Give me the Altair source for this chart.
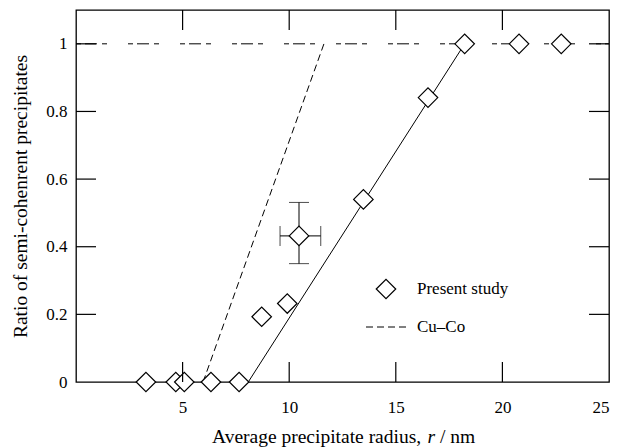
import altair as alt
import pandas as pd

# ---- data ----
present_r = [3.28, 4.68, 5.08, 6.33, 7.65, 8.71, 9.91, 10.46, 13.48, 16.51, 18.23, 20.78, 22.76]
present_ratio = [0, 0, 0, 0, 0, 0.193, 0.232, 0.432, 0.540, 0.841, 1.0, 1.0, 1.0]

err_r = [10.46]
err_ratio = [0.432]
err_r_lo = [9.57]
err_r_hi = [11.48]
err_ratio_lo = [0.350]
err_ratio_hi = [0.531]

fit_r = [8.08, 18.23]
fit_ratio = [0.0, 1.0]

cuco_r = [5.96, 11.63]
cuco_ratio = [0.0, 1.0]

unity_r = [0, 25]
unity_ratio = [1.0, 1.0]

x_tick_vals = [5, 10, 15, 20]
x_label_vals = [5, 10, 15, 20, 25]
y_tick_vals = [0.2, 0.4, 0.6, 0.8, 1.0]
y_label_vals = [0, 0.2, 0.4, 0.6, 0.8, 1]

legend_labels = ["Present study", "Cu\u2013Co"]
x_title_parts = ["Average precipitate radius,", "r", "/ nm"]
y_title = "Ratio of semi-cohenrent precipitates"

W, H = 533, 372
FONT = "'Liberation Serif', 'Times New Roman', Times, serif"

xscale = alt.Scale(domain=[0, 25], nice=False, zero=False)
yscale = alt.Scale(domain=[0, 1.1], nice=False, zero=False)

xaxis = alt.Axis(values=x_label_vals, title="", labelPadding=17, format="d")
yaxis = alt.Axis(values=y_label_vals, title=y_title, labelPadding=9, titlePadding=15, format="~g")


def X(field):
    return alt.X(field, type="quantitative", scale=xscale, axis=xaxis)


def Y(field):
    return alt.Y(field, type="quantitative", scale=yscale, axis=yaxis)


pts = pd.DataFrame({"r": present_r, "ratio": present_ratio})
err = pd.DataFrame({"r": err_r, "ratio": err_ratio, "r_lo": err_r_lo, "r_hi": err_r_hi,
                    "ratio_lo": err_ratio_lo, "ratio_hi": err_ratio_hi})
fit = pd.DataFrame({"r": fit_r, "ratio": fit_ratio})
cuco = pd.DataFrame({"r": cuco_r, "ratio": cuco_ratio})
unity = pd.DataFrame({"r": unity_r, "ratio": unity_ratio})
xt = pd.DataFrame({"t": x_tick_vals})
yt = pd.DataFrame({"t": y_tick_vals})
leg = pd.DataFrame({"label": legend_labels})
xtitle = pd.DataFrame({"part": x_title_parts})

unity_line = alt.Chart(unity).mark_line(color="black", strokeWidth=1, strokeDash=[5, 4, 12, 5, 5, 21]).encode(
    x=X("r"), y=Y("ratio"))
fit_line = alt.Chart(fit).mark_line(color="black", strokeWidth=1).encode(x=X("r"), y=Y("ratio"))
cuco_line = alt.Chart(cuco).mark_line(color="black", strokeWidth=1, strokeDash=[7, 4]).encode(
    x=X("r"), y=Y("ratio"))

err_v = alt.Chart(err).mark_rule(color="black", strokeWidth=1).encode(x=X("r"), y=Y("ratio_lo"), y2="ratio_hi")
err_h = alt.Chart(err).mark_rule(color="black", strokeWidth=1).encode(x=X("r_lo"), x2="r_hi", y=Y("ratio"))
cap_top = alt.Chart(err).mark_tick(color="black", orient="horizontal", size=20, thickness=1).encode(
    x=X("r"), y=Y("ratio_hi"))
cap_bot = alt.Chart(err).mark_tick(color="black", orient="horizontal", size=20, thickness=1).encode(
    x=X("r"), y=Y("ratio_lo"))
cap_l = alt.Chart(err).mark_tick(color="black", orient="vertical", size=20, thickness=1).encode(
    x=X("r_lo"), y=Y("ratio"))
cap_r = alt.Chart(err).mark_tick(color="black", orient="vertical", size=20, thickness=1).encode(
    x=X("r_hi"), y=Y("ratio"))

diamonds = alt.Chart(pts).mark_point(shape="diamond", size=380, filled=True, fill="white",
                                     stroke="black", strokeWidth=1.2, opacity=1).encode(
    x=X("r"), y=Y("ratio"))

# inward ticks on all four sides
tick_b = alt.Chart(xt).mark_rule(color="black", strokeWidth=1.2).encode(
    x=X("t"), y=alt.value(H), y2=alt.value(H - 20))
tick_t = alt.Chart(xt).mark_rule(color="black", strokeWidth=1.2).encode(
    x=X("t"), y=alt.value(0), y2=alt.value(20))
tick_l = alt.Chart(yt).mark_rule(color="black", strokeWidth=1.2).encode(
    y=Y("t"), x=alt.value(0), x2=alt.value(20))
tick_r = alt.Chart(yt).mark_rule(color="black", strokeWidth=1.2).encode(
    y=Y("t"), x=alt.value(W), x2=alt.value(W - 20))

# legend
leg_sym = alt.Chart(leg.iloc[[0]]).mark_point(shape="diamond", size=380, filled=True, fill="white",
                                               stroke="black", strokeWidth=1.2, opacity=1).encode(
    x=alt.value(310), y=alt.value(279))
leg_dash = alt.Chart(leg.iloc[[1]]).mark_rule(color="black", strokeWidth=1, strokeDash=[7, 4]).encode(
    x=alt.value(290), x2=alt.value(331), y=alt.value(317))
leg_t1 = alt.Chart(leg.iloc[[0]]).mark_text(align="left", baseline="middle", font=FONT, fontSize=17,
                                             color="black").encode(
    x=alt.value(341), y=alt.value(279), text="label:N")
leg_t2 = alt.Chart(leg.iloc[[1]]).mark_text(align="left", baseline="middle", font=FONT, fontSize=17,
                                             color="black").encode(
    x=alt.value(341), y=alt.value(317), text="label:N")

# x-axis title with italic "r"
TY = 433
xt1 = alt.Chart(xtitle.iloc[[0]]).mark_text(align="left", baseline="alphabetic", font=FONT, fontSize=19.5,
                                             color="black").encode(
    x=alt.value(136), y=alt.value(TY), text="part:N")
xt2 = alt.Chart(xtitle.iloc[[1]]).mark_text(align="left", baseline="alphabetic", font=FONT, fontSize=19.5,
                                             fontStyle="italic", color="black").encode(
    x=alt.value(351.5), y=alt.value(TY), text="part:N")
xt3 = alt.Chart(xtitle.iloc[[2]]).mark_text(align="left", baseline="alphabetic", font=FONT, fontSize=19.5,
                                             color="black").encode(
    x=alt.value(364), y=alt.value(TY), text="part:N")

chart = alt.layer(
    unity_line, fit_line, cuco_line,
    err_v, err_h, cap_top, cap_bot, cap_l, cap_r,
    diamonds,
    tick_b, tick_t, tick_l, tick_r,
    leg_sym, leg_dash, leg_t1, leg_t2,
    xt1, xt2, xt3,
).properties(
    width=W, height=H,
    autosize=alt.AutoSizeParams(type="none"),
    padding={"left": 76, "top": 10, "right": 8, "bottom": 66},
    background="white",
).configure_view(
    stroke="black", strokeWidth=1.3
).configure_axis(
    labelFont=FONT, labelFontSize=17, labelColor="black",
    titleFont=FONT, titleFontSize=19.5, titleFontWeight="normal", titleColor="black",
    domain=False, ticks=False, grid=False,
)

chart.save("out.html", embed_options={"renderer": "svg", "actions": False})
